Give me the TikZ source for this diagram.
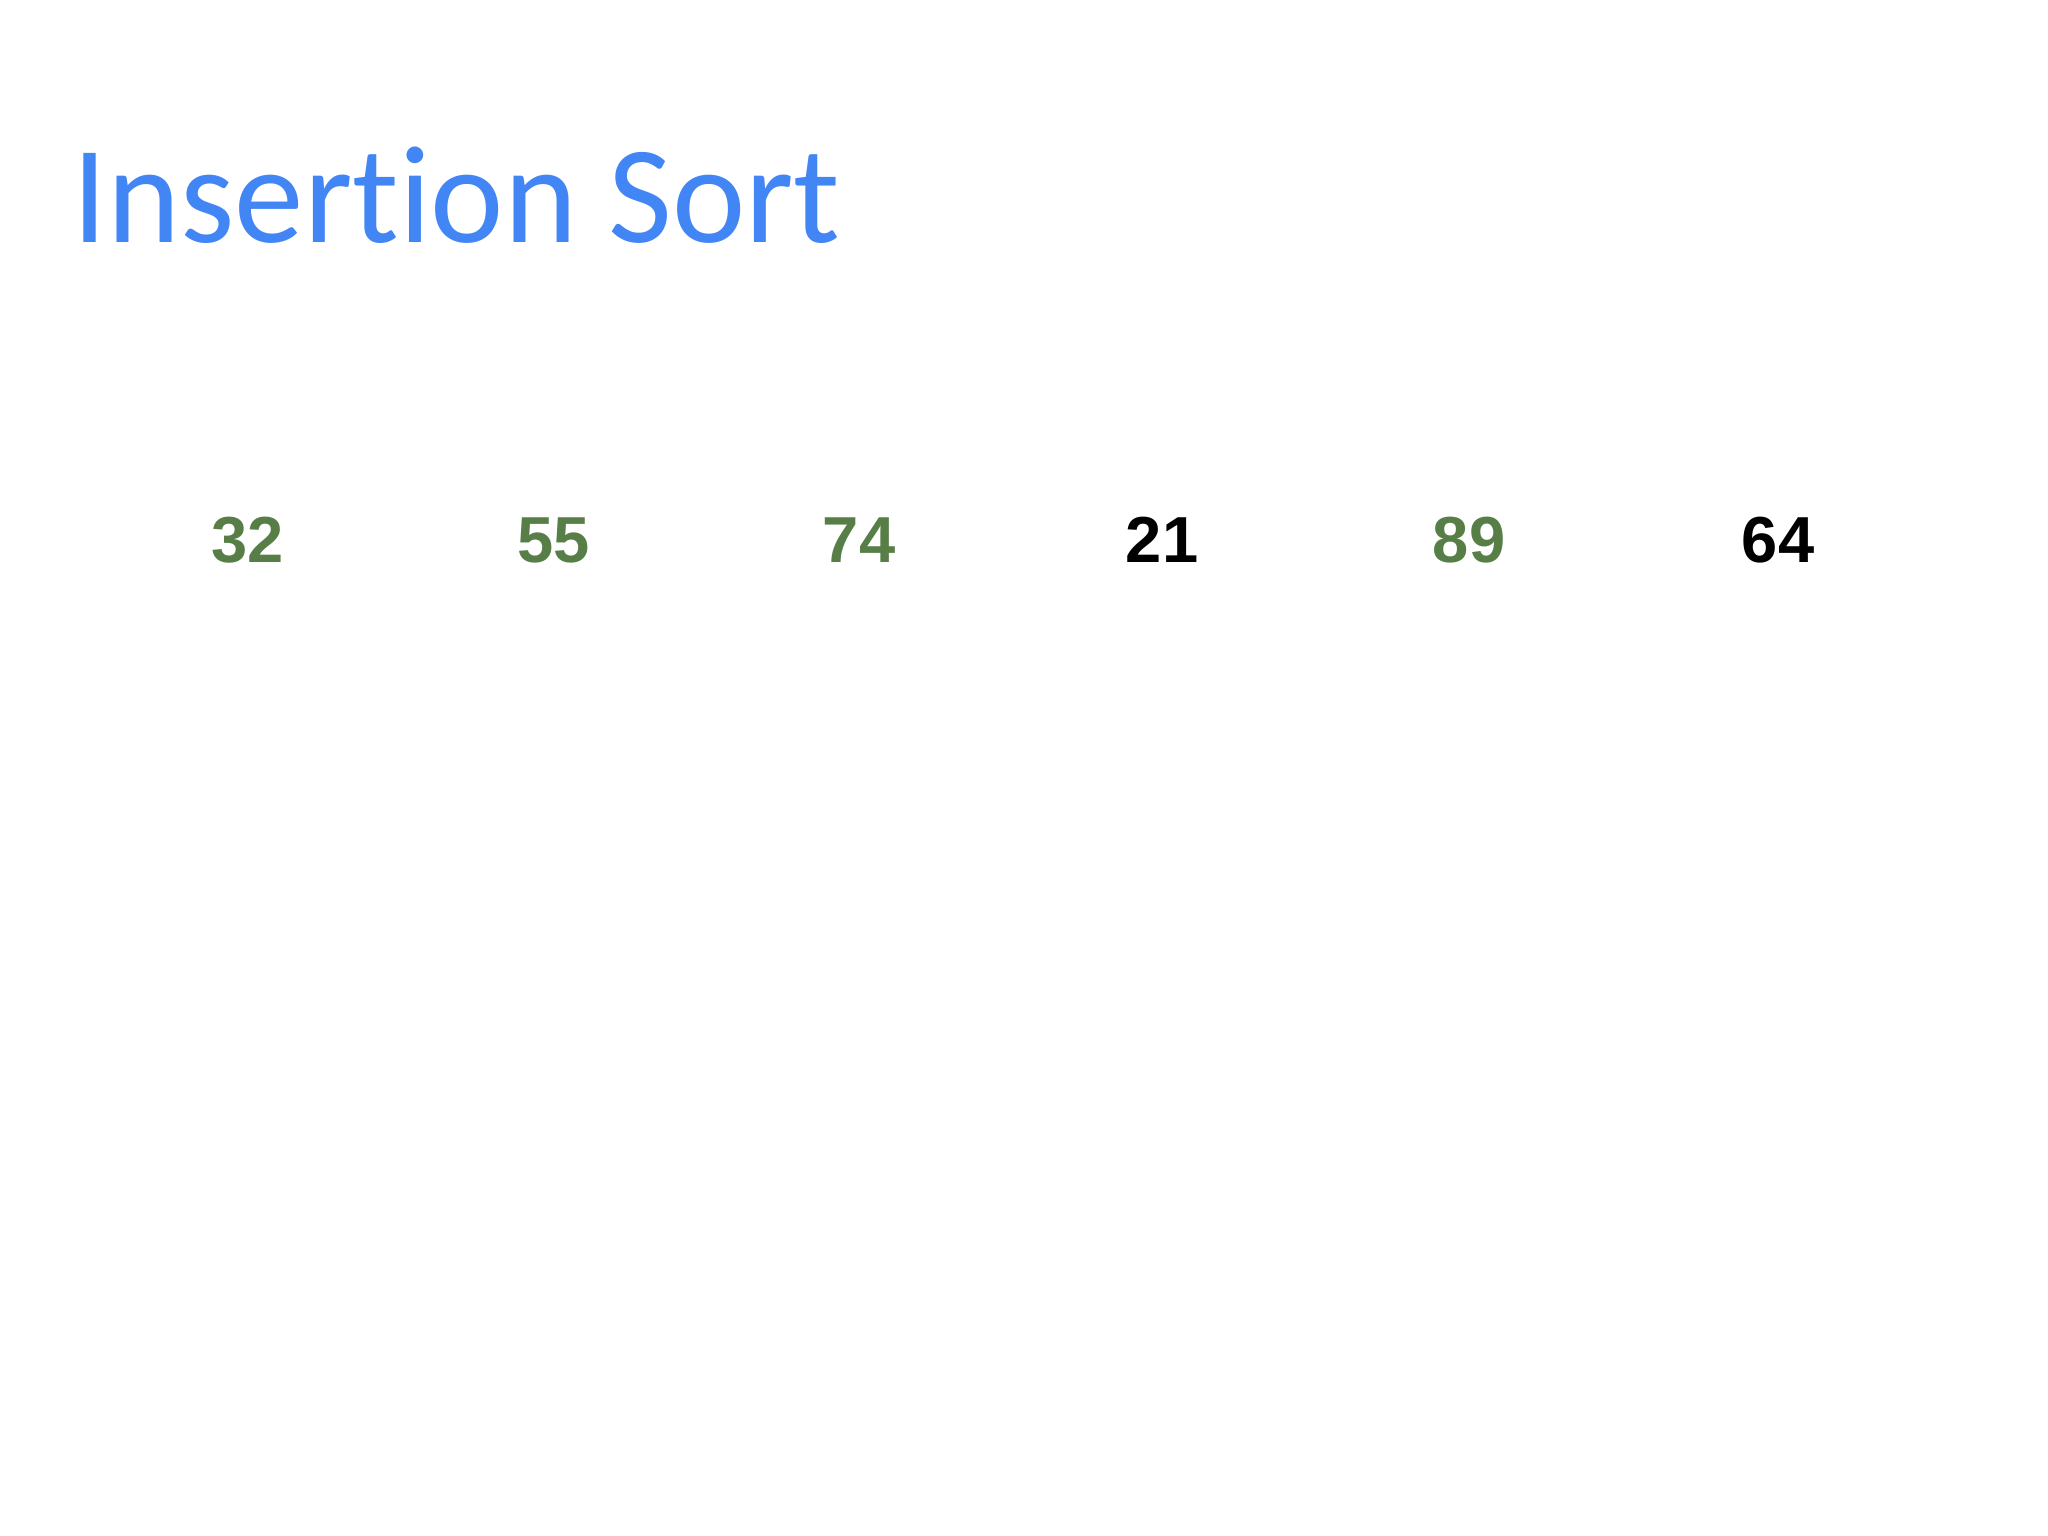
\documentclass[tikz,border=0pt]{standalone}
\usepackage{fontspec}
\usepackage{tikz}
\usepackage{xcolor}
\setmainfont{Carlito}[Ligatures=NoCommon]
\newfontfamily\numfont{Liberation Sans}
\definecolor{titleblue}{RGB}{66,133,244}
\definecolor{sortedgreen}{RGB}{88,126,72}

\begin{document}
\begin{tikzpicture}[x=0.01cm,y=-0.01cm,every node/.style={inner sep=0pt,anchor=base}]
      \useasboundingbox (0,0) rectangle (2048,1536);
      \node[anchor=base west,text=titleblue,font=\fontsize{39.5}{48}\selectfont] at (72, 242) (Title) {Insertion Sort};
      % the row of keys
      \node[text=sortedgreen,font=\numfont\bfseries\fontsize{18.5}{22}\selectfont] at (248, 562) (K1) {32};
      \node[text=sortedgreen,font=\numfont\bfseries\fontsize{18.5}{22}\selectfont] at (554, 562) (K2) {55};
      \node[text=sortedgreen,font=\numfont\bfseries\fontsize{18.5}{22}\selectfont] at (859, 562) (K3) {74};
      \node[text=black,font=\numfont\bfseries\fontsize{18.5}{22}\selectfont] at (1162, 562) (K4) {21};
      \node[text=sortedgreen,font=\numfont\bfseries\fontsize{18.5}{22}\selectfont] at (1469, 562) (K5) {89};
      \node[text=black,font=\numfont\bfseries\fontsize{18.5}{22}\selectfont] at (1778, 562) (K6) {64};
  \end{tikzpicture}
\end{document}
